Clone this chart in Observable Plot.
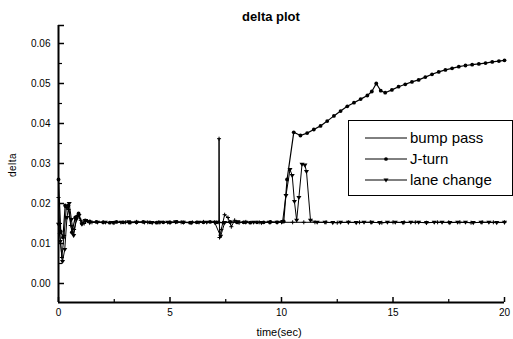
<!DOCTYPE html>
<html>
<head>
<meta charset="utf-8">
<script src="https://cdn.jsdelivr.net/npm/d3@7"></script>
<script src="https://cdn.jsdelivr.net/npm/@observablehq/plot@0.6"></script>
<style>
  html, body { margin: 0; padding: 0; background: #fff; }
  #chart svg { display: block; }
</style>
</head>
<body>
<div id="chart"></div>
<script>
// ---- data ----
const titleText = "delta plot";
const xLabel = "time(sec)";
const yLabel = "delta";
const seriesNames = ["bump pass", "J-turn", "lane change"];

const xTicks = [0, 5, 10, 15, 20];
const xMinorTicks = [2.5, 7.5, 12.5, 17.5];
const yTicks = [0.00, 0.01, 0.02, 0.03, 0.04, 0.05, 0.06];
const yMinorTicks = [0.005, 0.015, 0.025, 0.035, 0.045, 0.055];
const xDomain = [0, 20];
const yDomain = [-0.00475, 0.0645];

const bumpT = [0, 0.06, 0.15, 0.25, 0.35, 0.45, 0.55, 0.7, 0.85, 1.0, 1.15, 1.3, 1.5, 2.0, 2.5, 3.0, 3.5, 4.0, 4.5, 5.0, 5.5, 6.0, 6.5, 7.0, 7.19, 7.2, 7.22, 7.3, 7.45, 7.6, 7.75, 7.9, 8.1, 8.4, 9.0, 9.5, 10.0, 10.5, 11.0, 11.5, 12.0, 12.5, 13.0, 13.5, 14.0, 14.5, 15.0, 15.5, 16.0, 16.5, 17.0, 17.5, 18.0, 18.5, 19.0, 19.5, 20.0];
const bumpV = [0.0215, 0.0125, 0.0065, 0.012, 0.019, 0.0185, 0.0145, 0.0135, 0.017, 0.0158, 0.015, 0.0156, 0.0153, 0.0153, 0.0152, 0.0153, 0.0154, 0.0153, 0.0153, 0.0152, 0.0153, 0.0153, 0.0154, 0.0153, 0.0153, 0.0362, 0.0115, 0.0135, 0.0172, 0.0165, 0.0142, 0.0158, 0.0152, 0.0154, 0.0153, 0.0153, 0.0153, 0.0153, 0.0153, 0.0153, 0.0153, 0.0152, 0.0153, 0.0153, 0.0153, 0.0152, 0.0153, 0.0153, 0.0153, 0.0152, 0.0153, 0.0153, 0.0153, 0.0152, 0.0153, 0.0153, 0.0153];

const jturnT = [0, 0.1, 0.2, 0.3, 0.45, 0.6, 0.75, 0.9, 1.05, 1.2, 1.4, 1.7, 2.0, 2.3, 2.6, 2.9, 3.2, 3.5, 3.8, 4.1, 4.4, 4.7, 5.0, 5.3, 5.6, 5.9, 6.2, 6.5, 6.8, 7.1, 7.4, 7.7, 8.0, 8.3, 8.6, 8.9, 9.2, 9.5, 9.8, 10.1, 10.25, 10.55, 10.85, 11.15, 11.45, 11.75, 12.05, 12.35, 12.65, 12.95, 13.25, 13.55, 13.85, 14.05, 14.25, 14.45, 14.65, 14.95, 15.25, 15.55, 15.85, 16.15, 16.45, 16.75, 17.05, 17.35, 17.65, 17.95, 18.25, 18.55, 18.85, 19.15, 19.45, 19.75, 20.0];
const jturnV = [0.026, 0.013, 0.0115, 0.0195, 0.0195, 0.0128, 0.0165, 0.0175, 0.015, 0.0158, 0.0155, 0.0154, 0.0153, 0.0152, 0.0154, 0.0153, 0.0152, 0.0153, 0.0154, 0.0153, 0.0152, 0.0153, 0.0153, 0.0154, 0.0153, 0.0152, 0.0153, 0.0153, 0.0154, 0.0153, 0.0152, 0.0154, 0.0153, 0.0153, 0.0152, 0.0153, 0.0153, 0.0154, 0.0153, 0.0155, 0.026, 0.0378, 0.037, 0.0376, 0.0385, 0.0394, 0.0406, 0.0419, 0.0431, 0.0443, 0.0452, 0.0461, 0.047, 0.048, 0.05, 0.0482, 0.0477, 0.0484, 0.0492, 0.0498, 0.0504, 0.0509, 0.0516, 0.0523, 0.0529, 0.0534, 0.0538, 0.0542, 0.0545, 0.0547, 0.0549, 0.0551, 0.0554, 0.0556, 0.0558];

const laneT = [0, 0.08, 0.18, 0.28, 0.38, 0.48, 0.58, 0.68, 0.8, 0.92, 1.05, 1.2, 1.4, 1.75, 2.1, 2.45, 2.8, 3.15, 3.5, 3.85, 4.2, 4.55, 4.9, 5.25, 5.6, 5.95, 6.3, 6.65, 7.0, 7.27, 7.45, 7.7, 8.05, 8.4, 8.75, 9.1, 9.45, 9.8, 10.05, 10.2, 10.38, 10.48, 10.58, 10.68, 10.78, 10.92, 11.05, 11.12, 11.3, 11.6, 11.95, 12.3, 12.65, 13.0, 13.35, 13.7, 14.05, 14.4, 14.75, 15.1, 15.45, 15.8, 16.15, 16.5, 16.85, 17.2, 17.55, 17.9, 18.25, 18.6, 18.95, 19.3, 19.65, 20.0];
const laneV = [0.0148, 0.0105, 0.0055, 0.0085, 0.0165, 0.02, 0.016, 0.012, 0.016, 0.017, 0.0148, 0.0157, 0.0152, 0.0153, 0.0153, 0.0152, 0.0153, 0.0154, 0.0153, 0.0153, 0.0152, 0.0153, 0.0153, 0.0154, 0.0153, 0.0152, 0.0153, 0.0153, 0.0153, 0.0118, 0.0152, 0.0153, 0.0154, 0.0153, 0.0153, 0.0152, 0.0153, 0.0153, 0.0155, 0.022, 0.0285, 0.027, 0.0205, 0.0158, 0.0215, 0.0298, 0.0296, 0.028, 0.0158, 0.0153, 0.0153, 0.0152, 0.0153, 0.0153, 0.0152, 0.0153, 0.0153, 0.0152, 0.0153, 0.0153, 0.0152, 0.0153, 0.0153, 0.0152, 0.0153, 0.0153, 0.0152, 0.0153, 0.0153, 0.0152, 0.0153, 0.0153, 0.0152, 0.0153];

// ---- build ----
const rows = (T, V) => T.map((t, i) => ({t, v: V[i]}));
const bump = rows(bumpT, bumpV);
const jturn = rows(jturnT, jturnV);
const lane = rows(laneT, laneV);

const triDown = {
  draw(ctx, size) {
    const s = Math.sqrt(size / Math.PI);
    ctx.moveTo(-s * 1.1, -s * 0.7);
    ctx.lineTo(s * 1.1, -s * 0.7);
    ctx.lineTo(0, s * 1.1);
    ctx.closePath();
  }
};

const W = 513, H = 339;
const mL = 58, mR = 9, mT = 25, mB = 37;
const fw = W - mL - mR, fh = H - mT - mB;

const plot = Plot.plot({
  width: W, height: H,
  marginLeft: mL, marginRight: mR, marginTop: mT, marginBottom: mB,
  style: {fontFamily: "'Liberation Sans', Arial, sans-serif", fontSize: "10px", color: "black", background: "white"},
  x: {domain: xDomain},
  y: {domain: yDomain},
  marks: [
    Plot.axisY(yTicks, {tickSize: 0, tickPadding: 8, tickFormat: d3.format(".2f"), label: null, fontSize: 10}),
    Plot.axisX(xTicks, {tickSize: 0, tickPadding: 6, tickFormat: d => String(d), label: null, fontSize: 10}),
    Plot.tickY(yTicks.concat([yDomain[1]]), {y: d => d, insetRight: fw - 6, strokeWidth: 1.5}),
    Plot.tickY(yMinorTicks, {y: d => d, insetRight: fw - 4, strokeWidth: 1.2}),
    Plot.tickX(xTicks, {x: d => d, insetTop: fh - 5, strokeWidth: 1.5}),
    Plot.tickX(xMinorTicks, {x: d => d, insetTop: fh - 3, strokeWidth: 1.2}),
    Plot.line(bump, {x: "t", y: "v", stroke: "black", strokeWidth: 1}),
    Plot.dot(bump, {x: "t", y: "v", symbol: "plus", r: 1.4, stroke: "black", strokeWidth: 1}),
    Plot.line(lane, {x: "t", y: "v", stroke: "black", strokeWidth: 1}),
    Plot.dot(lane, {x: "t", y: "v", symbol: triDown, r: 2.3, fill: "black", stroke: "none"}),
    Plot.line(jturn, {x: "t", y: "v", stroke: "black", strokeWidth: 1.2}),
    Plot.dot(jturn, {x: "t", y: "v", r: 1.9, fill: "black", stroke: "none"}),
    Plot.ruleX([xDomain[0]], {strokeWidth: 2}),
    Plot.ruleY([yDomain[0]], {strokeWidth: 2})
  ]
});
document.getElementById("chart").appendChild(plot);

const svg = d3.select(plot);
const ff = "'Liberation Sans', Arial, sans-serif";
svg.append("text").attr("x", 271).attr("y", 21).attr("text-anchor", "middle")
  .attr("font-family", ff).attr("font-weight", "bold").attr("font-size", 13).text(titleText);
svg.append("text").attr("x", 279).attr("y", 336).attr("text-anchor", "middle")
  .attr("font-family", ff).attr("font-size", 11).text(xLabel);
svg.append("text").attr("transform", "translate(16,165) rotate(-90)").attr("text-anchor", "middle")
  .attr("font-family", ff).attr("font-size", 10).attr("letter-spacing", 0.5).text(yLabel);

// legend
const lg = svg.append("g");
lg.append("rect").attr("x", 348.5).attr("y", 120.5).attr("width", 164).attr("height", 75)
  .attr("fill", "white").attr("stroke", "black").attr("stroke-width", 1);
const rowsY = [138, 159, 180];
const sym = [d3.symbol(d3.symbolPlus, 12)(), d3.symbol(d3.symbolCircle, 11)(), null];
seriesNames.forEach((name, i) => {
  const y = rowsY[i];
  lg.append("line").attr("x1", 365).attr("x2", 407).attr("y1", y).attr("y2", y)
    .attr("stroke", "black").attr("stroke-width", 1);
  if (i === 0) {
    lg.append("path").attr("d", sym[0]).attr("transform", `translate(386,${y})`).attr("fill", "black");
  } else if (i === 1) {
    lg.append("path").attr("d", sym[1]).attr("transform", `translate(386,${y})`).attr("fill", "black");
  } else {
    lg.append("path").attr("d", "M-2.5,-1.6L2.5,-1.6L0,2.4Z").attr("transform", `translate(386,${y})`).attr("fill", "black");
  }
  lg.append("text").attr("x", 410).attr("y", y).attr("dy", "0.35em").attr("text-anchor", "start")
    .attr("font-family", ff).attr("font-size", 15).text(name);
});
</script>
</body>
</html>
